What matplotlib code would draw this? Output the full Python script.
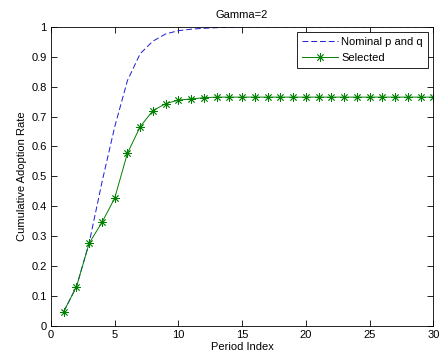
import numpy as np
import matplotlib
matplotlib.use("Agg")
import matplotlib.pyplot as plt

plt.rcParams['font.family'] = ['Liberation Sans', 'DejaVu Sans']

periods = np.arange(1, 31)
nominal = [0.048, 0.131, 0.278, 0.48, 0.665, 0.82, 0.91, 0.952, 0.976, 0.987,
           0.992, 0.995, 0.997, 0.999] + [1.0] * 16
selected = [0.048, 0.131, 0.277, 0.346, 0.427, 0.577, 0.666, 0.72, 0.743, 0.755,
            0.759, 0.763] + [0.765] * 18

fig = plt.figure(figsize=(4.43, 3.62), dpi=100)
ax = fig.add_axes([0.115, 0.0994, 0.863, 0.8266])

ax.plot(periods, nominal, '--', color='#1a1ad8', lw=0.7, dashes=(6, 3),
        label='Nominal p and q')
ax.plot(periods, selected, '-', color='#008000', lw=0.7, marker=(8, 2, 0),
        markersize=6, markeredgewidth=0.6, label='Selected')

ax.set_xlim(0, 30)
ax.set_ylim(0, 1)
ax.set_xticks(np.arange(0, 31, 5))
ax.set_yticks(np.arange(0, 1.01, 0.1))
ax.set_yticklabels(['0', '0.1', '0.2', '0.3', '0.4', '0.5', '0.6', '0.7', '0.8', '0.9', '1'])
ax.tick_params(direction='in', top=True, right=True, labelsize=8, length=4,
               width=0.6, pad=3)
for s in ax.spines.values():
    s.set_linewidth(0.6)

ax.set_title('Gamma=2', fontsize=8, pad=6)
ax.set_xlabel('Period Index', fontsize=8, labelpad=1)
ax.set_ylabel('Cumulative Adoption Rate', fontsize=8, labelpad=3)

leg = ax.legend(loc='upper right', fontsize=8, handlelength=3.2, fancybox=False,
                framealpha=1, edgecolor='black', borderaxespad=0.45,
                borderpad=0.5, labelspacing=0.5, handletextpad=0.3)
leg.get_frame().set_linewidth(0.6)

fig.savefig('out.png', dpi=100)
